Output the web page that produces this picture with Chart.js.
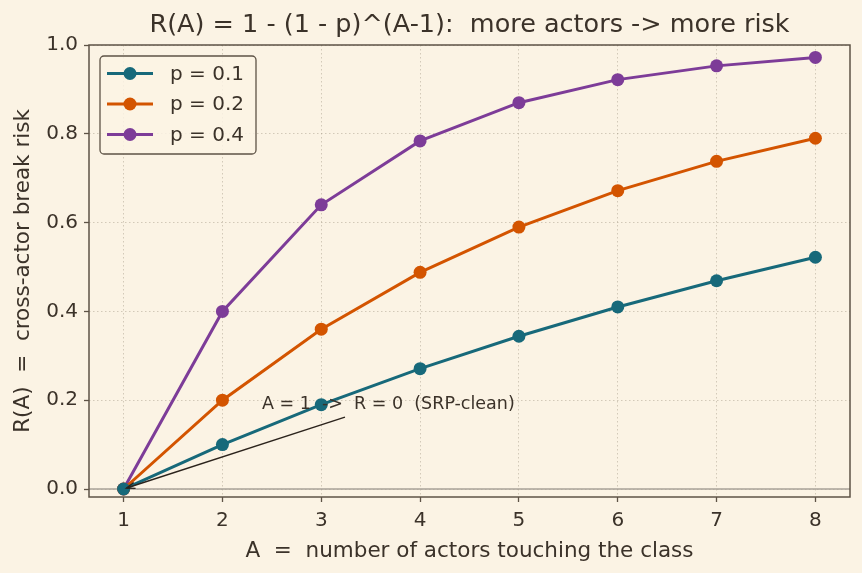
<!DOCTYPE html>
<html>
<head>
<meta charset="utf-8">
<script src="https://cdn.jsdelivr.net/npm/chart.js@4.4.1/dist/chart.umd.min.js"></script>
<style>
  html, body { margin: 0; padding: 0; background: #fbf3e4; }
  #wrap { width: 862px; height: 573px; }
</style>
</head>
<body>
<div id="wrap"><canvas id="chart" width="862" height="573"></canvas></div>
<script>
// number of actors A
const actors = [1, 2, 3, 4, 5, 6, 7, 8];
// R(A), one list per p
const riskP01 = [0, 0.10, 0.19, 0.271, 0.344, 0.410, 0.469, 0.522];
const riskP02 = [0, 0.20, 0.36, 0.488, 0.590, 0.672, 0.738, 0.790];
const riskP04 = [0, 0.40, 0.64, 0.784, 0.870, 0.922, 0.953, 0.972];
const seriesLabels = ['p = 0.1', 'p = 0.2', 'p = 0.4'];
const seriesColors = ['#17697a', '#d35400', '#7d3c98'];
const yTicks = [0, 0.2, 0.4, 0.6, 0.8, 1.0];

const titleText = 'R(A) = 1 - (1 - p)^(A-1):  more actors -> more risk';

// annotation: text anchor, arrow tail and arrow target, in data units
const noteText = 'A = 1  ->  R = 0  (SRP-clean)';
const noteAt = [2.4, 0.19];
const noteTail = [3.24, 0.162];
const noteTarget = [1, 0];

const ink = '#3b3229';
const frame = '#5e5346';
const bg = '#fbf3e4';

function toPoints(ys) {
  return actors.map((a, i) => ({ x: a, y: ys[i] }));
}

const decor = {
  id: 'decor',
  beforeDraw(chart) {
    const { ctx } = chart;
    ctx.save();
    ctx.fillStyle = bg;
    ctx.fillRect(0, 0, chart.width, chart.height);
    ctx.restore();
  },
  beforeDatasetsDraw(chart) {
    const { ctx, chartArea: a, scales } = chart;
    // zero line
    const y0 = scales.y.getPixelForValue(0);
    ctx.save();
    ctx.strokeStyle = '#a8a298';
    ctx.lineWidth = 1.3;
    ctx.beginPath();
    ctx.moveTo(a.left, y0);
    ctx.lineTo(a.right, y0);
    ctx.stroke();
    ctx.restore();
  },
  afterDatasetsDraw(chart) {
    const { ctx, chartArea: a, scales } = chart;
    const x = scales.x, y = scales.y;
    ctx.save();

    // title, centred over the plot
    ctx.fillStyle = ink;
    ctx.font = '25.5px "DejaVu Sans"';
    ctx.textAlign = 'center';
    ctx.textBaseline = 'middle';
    ctx.fillText(titleText, (a.left + a.right) / 2, 25);

    // annotation arrow
    const tx = x.getPixelForValue(noteTail[0]), ty = y.getPixelForValue(noteTail[1]);
    const hx = x.getPixelForValue(noteTarget[0]) + 3, hy = y.getPixelForValue(noteTarget[1]) - 1;
    ctx.strokeStyle = '#2b231c';
    ctx.lineWidth = 1.4;
    ctx.beginPath();
    ctx.moveTo(tx, ty);
    ctx.lineTo(hx, hy);
    ctx.stroke();
    const ang = Math.atan2(hy - ty, hx - tx);
    ctx.beginPath();
    ctx.moveTo(hx - 9 * Math.cos(ang - 0.35), hy - 9 * Math.sin(ang - 0.35));
    ctx.lineTo(hx, hy);
    ctx.lineTo(hx - 9 * Math.cos(ang + 0.35), hy - 9 * Math.sin(ang + 0.35));
    ctx.stroke();

    // annotation text
    ctx.font = '17.5px "DejaVu Sans"';
    ctx.textAlign = 'left';
    ctx.fillText(noteText, x.getPixelForValue(noteAt[0]), y.getPixelForValue(noteAt[1]));

    // frame
    ctx.strokeStyle = frame;
    ctx.lineWidth = 1.5;
    ctx.strokeRect(a.left, a.top, a.right - a.left, a.bottom - a.top);

    // legend box
    const lx = a.left + 11, ly = a.top + 11, lw = 156, lh = 98;
    ctx.fillStyle = 'rgba(251,243,228,0.85)';
    ctx.strokeStyle = frame;
    ctx.lineWidth = 1.3;
    ctx.beginPath();
    ctx.roundRect(lx, ly, lw, lh, 4);
    ctx.fill();
    ctx.stroke();
    ctx.font = '20px "DejaVu Sans"';
    chart.data.datasets.forEach((ds, i) => {
      const cy = ly + 17.5 + i * 30.5;
      ctx.strokeStyle = ds.borderColor;
      ctx.lineWidth = 3;
      ctx.beginPath();
      ctx.moveTo(lx + 7, cy);
      ctx.lineTo(lx + 53, cy);
      ctx.stroke();
      ctx.fillStyle = ds.borderColor;
      ctx.beginPath();
      ctx.arc(lx + 30, cy, 6.5, 0, Math.PI * 2);
      ctx.fill();
      ctx.fillStyle = ink;
      ctx.fillText(ds.label, lx + 70, cy + 1);
    });
    ctx.restore();
  }
};

new Chart(document.getElementById('chart'), {
  type: 'line',
  data: {
    datasets: [riskP01, riskP02, riskP04].map((ys, i) => ({
      label: seriesLabels[i],
      data: toPoints(ys),
      borderColor: seriesColors[i],
      backgroundColor: seriesColors[i],
      borderWidth: 3,
      pointRadius: 6.5,
      pointHoverRadius: 6.5,
      pointBorderWidth: 0,
      tension: 0,
    })),
  },
  options: {
    responsive: false,
    animation: false,
    layout: { padding: { top: 45, right: 12, bottom: 0, left: 0 } },
    plugins: {
      legend: { display: false },
      tooltip: { enabled: false },
      title: { display: false },
    },
    scales: {
      x: {
        type: 'linear',
        min: 0.65,
        max: 8.35,
        afterBuildTicks: s => { s.ticks = actors.map(v => ({ value: v })); },
        afterFit: s => { s.height = 76; },
        ticks: {
          color: ink,
          font: { family: 'DejaVu Sans', size: 20 },
          padding: 7,
          maxRotation: 0,
          callback: v => String(v),
        },
        grid: {
          color: 'rgba(160,150,130,0.45)',
          lineWidth: 1,
          tickLength: 5,
          tickColor: frame,
          tickWidth: 1.3,
          tickBorderDash: [],
        },
        border: { display: false, dash: [1.5, 2.5] },
        title: {
          display: true,
          text: 'A  =  number of actors touching the class',
          color: ink,
          font: { family: 'DejaVu Sans', size: 21.5 },
          padding: { top: 0, bottom: 9 },
        },
      },
      y: {
        min: -0.018,
        max: 1.0,
        afterBuildTicks: s => { s.ticks = yTicks.map(v => ({ value: v })); },
        afterFit: s => { s.width = 89; },
        ticks: {
          color: ink,
          font: { family: 'DejaVu Sans', size: 20 },
          padding: 6,
          callback: v => Number(v).toFixed(1),
        },
        grid: {
          color: 'rgba(160,150,130,0.45)',
          lineWidth: 1,
          tickLength: 5,
          tickColor: frame,
          tickWidth: 1.3,
          tickBorderDash: [],
        },
        border: { display: false, dash: [1.5, 2.5] },
        title: {
          display: true,
          text: 'R(A)  =  cross-actor break risk',
          color: ink,
          font: { family: 'DejaVu Sans', size: 21.5 },
          padding: { top: 11, bottom: 0 },
        },
      },
    },
  },
  plugins: [decor],
});
</script>
</body>
</html>
